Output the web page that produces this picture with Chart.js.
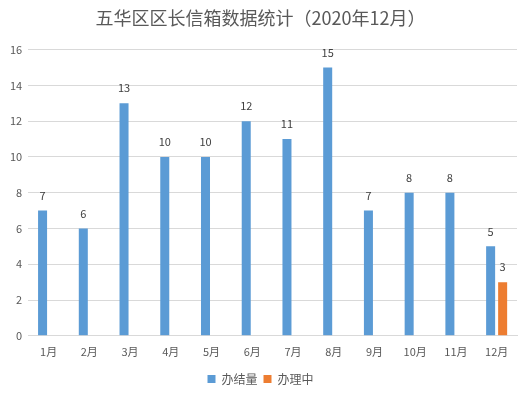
<!DOCTYPE html>
<html><head><meta charset="utf-8">
<script src="https://cdn.jsdelivr.net/npm/chart.js@4/dist/chart.umd.min.js"></script>
<style>html,body{margin:0;padding:0;background:#fff}#wrap{width:528px;height:395px}</style>
</head><body><div id="wrap"><canvas id="c" width="528" height="395"></canvas></div>
<script>
const categories = ['1月','2月','3月','4月','5月','6月','7月','8月','9月','10月','11月','12月'];
const doneValues = [7,6,13,10,10,12,11,15,7,8,8,5];
const pendingValues = [null,null,null,null,null,null,null,null,null,null,null,3];
const seriesNames = ['办结量','办理中'];
const titleText = '五华区区长信箱数据统计（2020年12月）';
const FONT = "'Noto Sans CJK SC', 'Noto Sans', sans-serif";

const labelPlugin = {
  id: 'valueLabels',
  afterDatasetsDraw(chart) {
    const ctx = chart.ctx;
    ctx.save();
    ctx.font = '11px ' + FONT;
    ctx.fillStyle = '#404040';
    ctx.textAlign = 'center';
    ctx.textBaseline = 'middle';
    chart.data.datasets.forEach((ds, i) => {
      const meta = chart.getDatasetMeta(i);
      meta.data.forEach((el, j) => {
        const v = ds.data[j];
        if (v === null || v === undefined) return;
        ctx.fillText(String(v), el.x, el.y - 15);
      });
    });
    ctx.restore();
  }
};

new Chart(document.getElementById('c'), {
  type: 'bar',
  data: {
    labels: categories,
    datasets: [
      { label: seriesNames[0], data: doneValues, backgroundColor: '#5B9BD5', barPercentage: 0.75, categoryPercentage: 0.59 },
      { label: seriesNames[1], data: pendingValues, backgroundColor: '#ED7D31', barPercentage: 0.75, categoryPercentage: 0.59 }
    ]
  },
  options: {
    responsive: false,
    animation: false,
    layout: { padding: { left: 4, right: 11, top: 5, bottom: 0 } },
    plugins: {
      title: { display: true, text: titleText, color: '#595959', font: { family: FONT, size: 18, weight: 'normal' }, padding: { top: 2, bottom: 21 } },
      legend: { position: 'bottom', labels: { boxWidth: 8, boxHeight: 8, color: '#595959', font: { family: FONT, size: 12 }, padding: 6 } },
      tooltip: { enabled: false }
    },
    scales: {
      x: {
        grid: { display: false, drawTicks: false },
        border: { color: '#d9d9d9' },
        ticks: { color: '#595959', font: { family: FONT, size: 11 }, padding: 9 }
      },
      y: {
        min: 0, max: 16,
        ticks: { stepSize: 2, color: '#595959', font: { family: FONT, size: 11 }, padding: 6 },
        grid: { color: '#d9d9d9', drawTicks: false },
        border: { display: false }
      }
    }
  },
  plugins: [labelPlugin]
});
</script></body></html>
